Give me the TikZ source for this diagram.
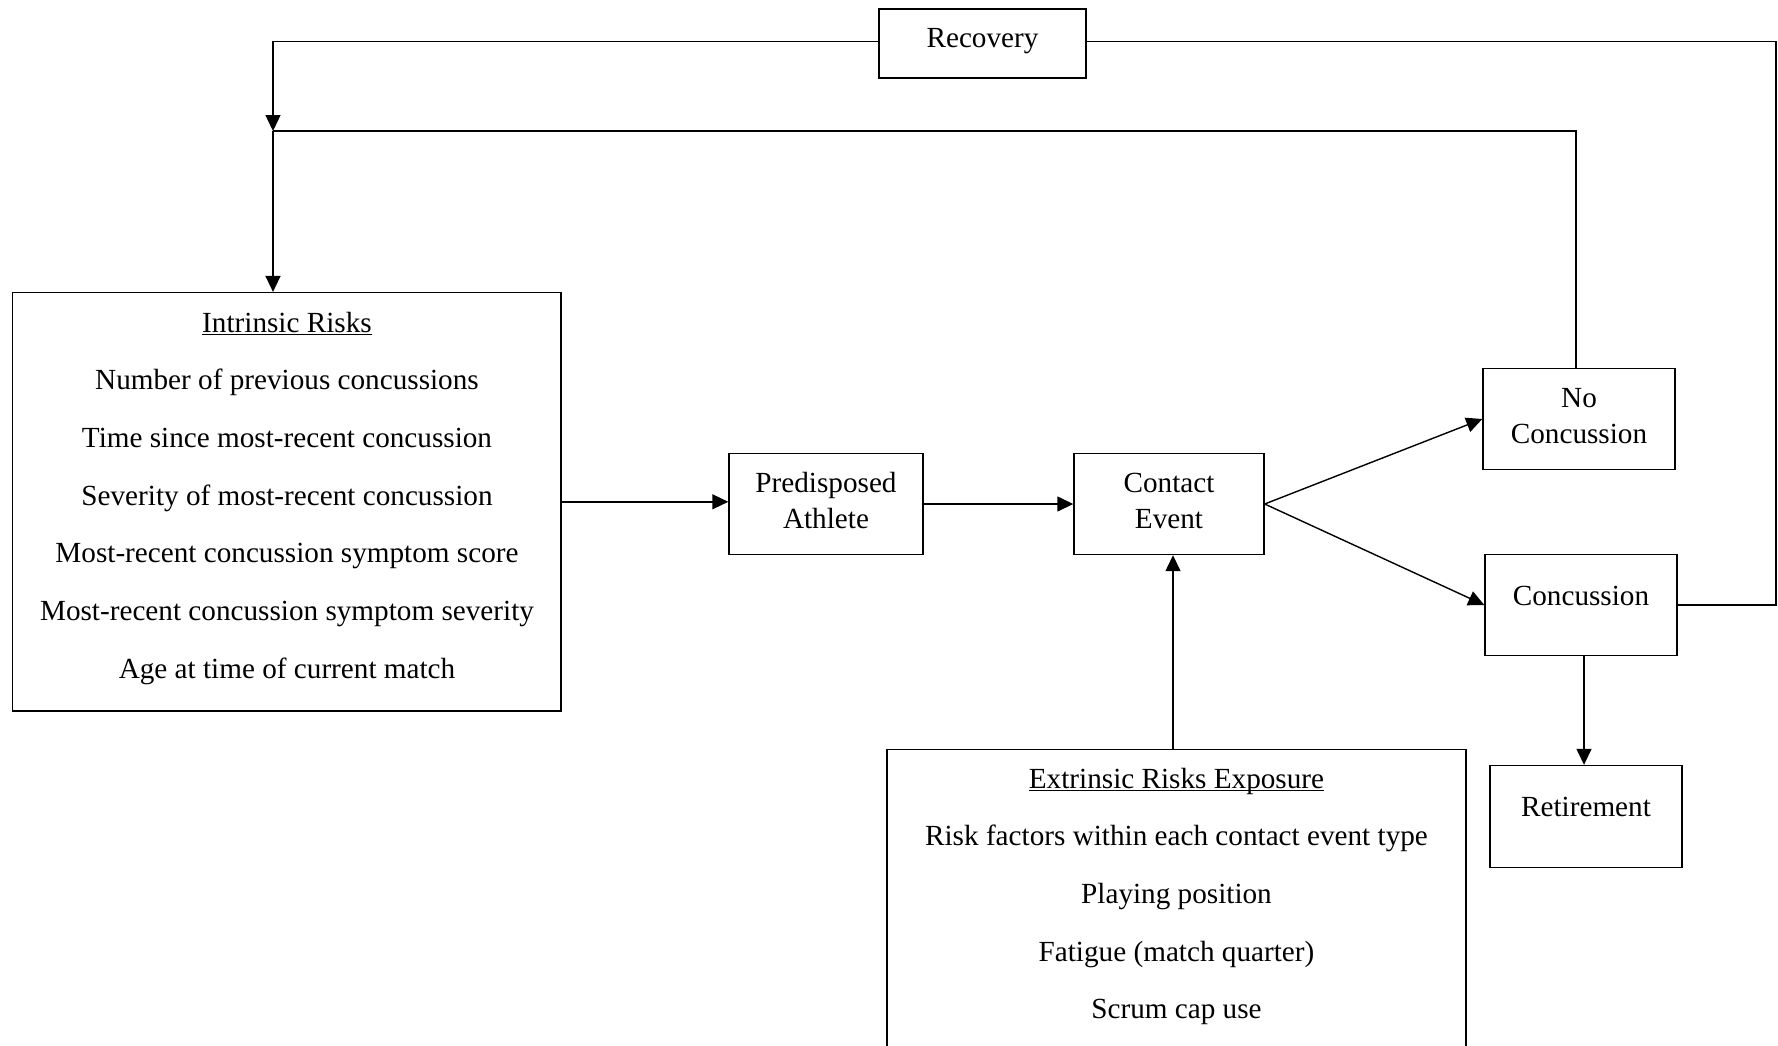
\documentclass[tikz,border=0pt]{standalone}
\usepackage{fontspec}
\setmainfont{Liberation Serif}
\usetikzlibrary{arrows.meta}
% underline at a fixed distance below the baseline (crosses descenders)
\newsavebox\ulbox
\newcommand{\ulword}[1]{\sbox\ulbox{#1}\rlap{\rule[-3pt]{\wd\ulbox}{1.3pt}}\usebox\ulbox}
\begin{document}
\begin{tikzpicture}[x=1pt,y=-1pt,line width=1.4pt,
  box/.style={draw,rectangle,inner sep=0pt,line width=1.4pt},
  txt/.style={anchor=base,inner sep=0pt,font=\fontsize{29.2}{35}\selectfont},
  arr/.style={-{Triangle[length=16pt,width=15pt]}}]
\useasboundingbox (0,0) rectangle (1778,1045);
\fill[white] (0,0) rectangle (1778,1045);
\clip (0,0) rectangle (1778,1045);

% boxes
\node[box,minimum width=207pt,minimum height=69pt] (rec) at (982.5,43.5) {};
\node[box,minimum width=548.5pt,minimum height=418.4pt] (intr) at (286.75,501.8) {};
\node[box,minimum width=194pt,minimum height=101pt] (pred) at (826,504) {};
\node[box,minimum width=190pt,minimum height=101pt] (cont) at (1169,504) {};
\node[box,minimum width=192pt,minimum height=101pt] (nocon) at (1579,419) {};
\node[box,minimum width=192pt,minimum height=101pt] (con) at (1581,605) {};
\node[box,minimum width=192pt,minimum height=102pt] (ret) at (1586,816.5) {};
\node[box,minimum width=579pt,minimum height=320pt] (extr) at (1176.5,909.6) {};

% labels
\node[txt] (recT) at (982.5,47.5) {Recovery};
\node[txt] (predA) at (826,492.5) {Predisposed};
\node[txt] (predB) at (826,528.5) {Athlete};
\node[txt] (contA) at (1169,492.5) {Contact};
\node[txt] (contB) at (1169,528.5) {Event};
\node[txt] (noconA) at (1579,407.5) {No};
\node[txt] (noconB) at (1579,443.5) {Concussion};
\node[txt] (conT) at (1581,605.5) {Concussion};
\node[txt] (retT) at (1586,816.5) {Retirement};

\node[txt] (intrH) at (287,332) {\ulword{Intrinsic Risks}};
\foreach \t [count=\k] in {Number of previous concussions,
    Time since most-recent concussion,
    Severity of most-recent concussion,
    Most-recent concussion symptom score,
    Most-recent concussion symptom severity,
    Age at time of current match}
  \node[txt] (intr\k) at (287,{332+57.7*\k}) {\t};

\node[txt] (extrH) at (1176.5,788) {\ulword{Extrinsic Risks Exposure}};
\foreach \t [count=\k] in {Risk factors within each contact event type,
    Playing position,
    Fatigue (match quarter),
    Scrum cap use}
  \node[txt] (extr\k) at (1176.5,{788+57.7*\k}) {\t};

% connectors
\coordinate (j1) at (273,131);
\coordinate (rx) at (1776,0);
\draw[arr] ([yshift=2pt]rec.west) -| (j1);
\draw ([yshift=2pt]rec.east) -| (rx |- con.east) -- (con.east);
\draw ([xshift=-3pt]nocon.north) |- (j1);
\draw[arr] (j1) -- (j1 |- intr.north);
\draw[arr] (intr.east) -- (intr.east -| pred.west);
\draw[arr] (pred.east) -- (cont.west);
\draw[arr] (cont.east) -- (nocon.west);
\draw[arr] (cont.east) -- (con.west);
\draw[arr] ([xshift=3pt]con.south) -- ([xshift=3pt]con.south |- ret.north);
\draw[arr] ([xshift=4pt]cont.south |- extr.north) -- ([xshift=4pt]cont.south);
\end{tikzpicture}
\end{document}
